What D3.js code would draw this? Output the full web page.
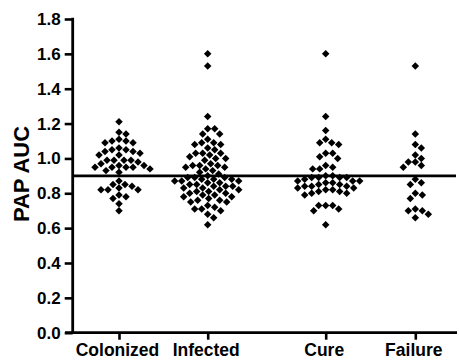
<!DOCTYPE html>
<html>
<head>
<meta charset="utf-8">
<script src="https://cdn.jsdelivr.net/npm/d3@7"></script>
<style>
  body { margin: 0; background: #fff; }
  svg { display: block; font-family: "Liberation Sans", Arial, sans-serif; font-weight: bold; }
</style>
</head>
<body>
<svg id="chart" width="459" height="360"></svg>
<script>
// groups along the x axis
const categories = ["Colonized", "Infected", "Cure", "Failure"];

// PAP AUC values
const colonized = [1.21, 1.15, 1.14, 1.11, 1.10, 1.10, 1.09, 1.09, 1.06, 1.05, 1.05, 1.04, 1.04, 1.03,
  1.02, 1.02, 0.99, 0.99, 0.99, 0.99, 0.98, 0.97, 0.96, 0.96, 0.95, 0.95, 0.95, 0.95, 0.94, 0.93,
  0.92, 0.87, 0.85, 0.85, 0.84, 0.83, 0.82, 0.82, 0.82, 0.79, 0.78, 0.77, 0.74, 0.70];
const infected = [1.60, 1.53, 1.24, 1.17, 1.17, 1.14, 1.14, 1.11, 1.09, 1.09, 1.08, 1.08, 1.06, 1.05,
  1.03, 1.03, 1.03, 1.02, 1.01, 1.00, 1.00, 0.99,
  0.97, 0.96, 0.96, 0.96, 0.95, 0.95, 0.94, 0.93, 0.92, 0.91,
  0.90, 0.89, 0.89, 0.89, 0.88, 0.88, 0.88, 0.87, 0.87, 0.87, 0.86, 0.86,
  0.85, 0.85, 0.84, 0.84, 0.84, 0.83, 0.83, 0.82, 0.82,
  0.81, 0.81, 0.80, 0.80, 0.79, 0.79, 0.78, 0.78, 0.77,
  0.76, 0.76, 0.75, 0.75, 0.73, 0.72, 0.71, 0.71, 0.70, 0.68, 0.66, 0.62];
const cure = [1.60, 1.24, 1.16, 1.11, 1.09, 1.09, 1.08, 1.03, 1.03, 1.01, 1.00, 0.96, 0.95, 0.94, 0.94,
  0.90, 0.90, 0.89, 0.89, 0.89, 0.89, 0.88, 0.87, 0.87, 0.87, 0.86, 0.86, 0.85, 0.85, 0.84, 0.84,
  0.84, 0.83, 0.83, 0.82, 0.82, 0.81, 0.81, 0.80, 0.80, 0.79,
  0.73, 0.73, 0.73, 0.71, 0.70, 0.62];
const failure = [1.53, 1.14, 1.08, 1.06, 1.02, 1.00, 0.98, 0.98, 0.96, 0.95, 0.88, 0.86, 0.85,
  0.80, 0.79, 0.77, 0.71, 0.70, 0.70, 0.68, 0.66];

const yTicks = [0, 0.2, 0.4, 0.6, 0.8, 1.0, 1.2, 1.4, 1.6, 1.8];
const cutoff = 0.9;
const yTitle = "PAP AUC";

const groups = [colonized, infected, cure, failure];

const svg = d3.select("#chart");
const axisX0 = 65, axisX1 = 457, axisLeft = 72.7;

const y = d3.scaleLinear().domain([0, 1.8]).range([332.7, 19]);
const x = d3.scaleOrdinal().domain(categories).range([119, 207.7, 325.7, 415.3]);

// simple beeswarm, like the Prism scatter dot plot
function swarm(values, cx, dist) {
  const placed = [];
  values.slice().sort((a, b) => b - a).forEach(v => {
    const py = y(v);
    for (let k = 0; k < 400; k++) {
      const off = k === 0 ? 0 : (k % 2 ? (k + 1) / 2 : -k / 2);
      const hit = placed.some(p => (p.dx - off) ** 2 + (p.y - py) ** 2 < dist * dist);
      if (!hit) { placed.push({ dx: off, y: py, x: cx + off }); break; }
    }
  });
  return placed;
}

// y axis
const yAxis = svg.append("g")
  .attr("transform", `translate(${axisLeft},0)`)
  .call(d3.axisLeft(y).tickValues(yTicks).tickFormat(d3.format(".1f")).tickSize(8).tickPadding(4));
yAxis.select(".domain").remove();
yAxis.selectAll(".tick line").attr("stroke", "#000").attr("stroke-width", 2.6);
yAxis.selectAll(".tick text").attr("fill", "#000").style("font-size", "17px").style("font-family", null);
svg.append("line")
  .attr("x1", axisLeft).attr("x2", axisLeft)
  .attr("y1", y(1.8) - 1.3).attr("y2", y(0))
  .attr("stroke", "#000").attr("stroke-width", 2.8);

// x axis
const xAxis = svg.append("g")
  .attr("transform", `translate(0,${y(0)})`)
  .call(d3.axisBottom(x).tickSize(7).tickPadding(0));
xAxis.select(".domain").remove();
xAxis.selectAll(".tick line").attr("stroke", "#000").attr("stroke-width", 2.6);
xAxis.selectAll(".tick text").remove();
svg.append("line")
  .attr("x1", axisX0).attr("x2", axisX1)
  .attr("y1", y(0)).attr("y2", y(0))
  .attr("stroke", "#000").attr("stroke-width", 2.8);

svg.append("g").selectAll("text")
  .data(categories)
  .join("text")
  .attr("x", d => x(d) - 1.5)
  .attr("y", 355.5)
  .attr("text-anchor", "middle")
  .style("font-size", "17.5px")
  .text(d => d);

// y title
svg.append("text")
  .attr("transform", "translate(29,174) rotate(-90)")
  .attr("text-anchor", "middle")
  .style("font-size", "22px")
  .text(yTitle);

// points
const diamond = d3.symbol().type(d3.symbolSquare).size(28);
const dots = svg.append("g").attr("class", "dots");
groups.forEach((vals, i) => {
  dots.append("g").selectAll("path")
    .data(swarm(vals, x(categories[i]), 6.6))
    .join("path")
    .attr("d", diamond)
    .attr("transform", d => `translate(${d.x},${d.y}) rotate(45)`)
    .attr("fill", "#000");
});

// cutoff line
svg.append("line")
  .attr("x1", axisLeft).attr("x2", axisX1 - 1)
  .attr("y1", y(cutoff)).attr("y2", y(cutoff))
  .attr("stroke", "#000").attr("stroke-width", 2.8);
</script>
</body>
</html>
